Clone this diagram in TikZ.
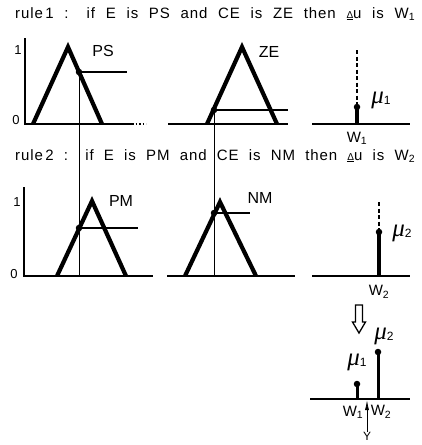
\documentclass[tikz,border=0pt]{standalone}
\usepackage{fontspec}
\setmainfont{Liberation Sans}
\newfontfamily\muserif{Liberation Serif}
\newfontfamily\titlefont[LetterSpace=6]{Liberation Sans}
\usetikzlibrary{arrows.meta}
\newcommand{\mulab}[1]{{\muserif\itshape μ}\raisebox{-1.5pt}{\fontsize{12}{12}\selectfont #1}}
\newcommand{\delu}{\underline{\fontsize{10}{10}\selectfont Δ}u}
\begin{document}
\begin{tikzpicture}[x=1pt,y=-1pt,
 tri/.style={line width=4.2pt, line join=miter},
 axis/.style={line width=1.5pt},
 memb/.style={line width=1.2pt},
 proj/.style={line width=0.9pt},
 stick/.style={line width=3.6pt},
 dashline/.style={line width=1.3pt, dash pattern=on 4pt off 2.5pt},
 dotm/.style={circle, fill=black, inner sep=0pt, minimum size=6.5pt},
 lab/.style={font=\fontsize{16}{16}\selectfont, inner sep=0pt},
 tick/.style={font=\fontsize{13}{13}\selectfont, inner sep=0pt},
 mu/.style={font=\fontsize{25}{25}\selectfont, inner sep=0pt},
 wl/.style={font=\fontsize{15}{15}\selectfont, inner sep=0pt},
 title/.style={font=\fontsize{15}{15}\selectfont\titlefont, inner sep=0pt, anchor=base west}]
\useasboundingbox (0,0) rectangle (421,445);

% ---------- rule 1 ----------
\node[title] (t1) at (15,18) {\makebox[400pt][s]{rule\,1 : if E is PS and CE is ZE then \delu{} is W\textsubscript{1}}};

% panel 1
\coordinate (a1t) at (25,38); \coordinate (a1o) at (25,124);
\coordinate (a1e) at (132,124); \coordinate (a1f) at (146,124);
\draw[axis] (a1t) -- (a1o) -- (a1e);
\draw[axis, dotted] (a1e) -- (a1f);
\node[tick] (one1) at (18,50) {1};
\node[tick] (zero1) at (16,120) {0};
\coordinate (p1l) at (33,124); \coordinate (p1a) at (68,47); \coordinate (p1r) at (102,124);
\draw[tri] (p1l) -- (p1a) -- (p1r);
\node[dotm] (d1) at (79,72) {};
\coordinate (h1e) at (127,72);
\draw[memb] (d1.center) -- (h1e);
\node[lab] (ps) at (103,51) {PS};

% panel 2
\coordinate (b2l) at (168,124); \coordinate (b2r) at (288,124);
\draw[axis] (b2l) -- (b2r);
\coordinate (p2l) at (207,124); \coordinate (p2a) at (242,47); \coordinate (p2r) at (277,124);
\draw[tri] (p2l) -- (p2a) -- (p2r);
\node[dotm] (d2) at (214,110) {};
\coordinate (h2e) at (288,110);
\draw[memb] (d2.center) -- (h2e);
\node[lab] (ze) at (269,52) {ZE};

% panel 3
\coordinate (b3l) at (312,124); \coordinate (b3r) at (410,124);
\draw[axis] (b3l) -- (b3r);
\coordinate (s3t) at (357,50); \coordinate (s3b) at (357,124);
\node[dotm] (d3) at (357,107) {};
\draw[dashline] (s3t) -- (d3.center);
\draw[stick] (d3.center) -- (s3b);
\node[mu] (mu1a) at (381,100) {\mulab{1}};
\node[wl] (w1a) at (357,138) {W\textsubscript{1}};

% ---------- rule 2 ----------
\node[title] (t2) at (15,160) {\makebox[400pt][s]{rule\,2 : if E is PM and CE is NM then \delu{} is W\textsubscript{2}}};

% panel 1
\coordinate (a4t) at (24,187); \coordinate (a4o) at (24,276); \coordinate (a4e) at (153,276);
\draw[axis] (a4t) -- (a4o) -- (a4e);
\node[tick] (one2) at (17,202) {1};
\node[tick] (zero2) at (14,274) {0};
\coordinate (p4l) at (57,276); \coordinate (p4a) at (92,201); \coordinate (p4r) at (126,276);
\draw[tri] (p4l) -- (p4a) -- (p4r);
\node[dotm] (d4) at (79,228) {};
\coordinate (h4e) at (138,228);
\draw[memb] (d4.center) -- (h4e);
\node[lab] (pm) at (121,201) {PM};
\coordinate (v1b) at (79,276);
\draw[proj] (d1.center) -- (v1b);

% panel 2
\coordinate (b5l) at (167,276); \coordinate (b5r) at (295,276);
\draw[axis] (b5l) -- (b5r);
\coordinate (p5l) at (185,276); \coordinate (p5a) at (220,202); \coordinate (p5r) at (256,276);
\draw[tri] (p5l) -- (p5a) -- (p5r);
\node[dotm] (d5) at (214,213) {};
\coordinate (h5e) at (250,213);
\draw[memb] (d5.center) -- (h5e);
\node[lab] (nm) at (260,198) {NM};
\coordinate (v2b) at (214,276);
\draw[proj] (d2.center) -- (v2b);

% panel 3
\coordinate (b6l) at (312,276); \coordinate (b6r) at (410,276);
\draw[axis] (b6l) -- (b6r);
\coordinate (s6t) at (379,202); \coordinate (s6b) at (379,276);
\node[dotm] (d6) at (379,232) {};
\draw[dashline] (s6t) -- (d6.center);
\draw[stick] (d6.center) -- (s6b);
\node[mu] (mu2a) at (402,233) {\mulab{2}};
\node[wl] (w2a) at (379,292) {W\textsubscript{2}};

% ---------- result ----------
\draw[line width=1.3pt, line join=miter] (355.5,305) -- (362.5,305) -- (362.5,322) -- (365.5,322)
  -- (359,333) -- (352.5,322) -- (355.5,322) -- cycle;
\node[mu] (mu2b) at (384,336) {\mulab{2}};
\node[mu] (mu1b) at (357,362) {\mulab{1}};
\coordinate (b7l) at (310,399); \coordinate (b7r) at (410,399);
\draw[line width=2.2pt] (b7l) -- (b7r);
\node[dotm] (d7) at (378,352) {};
\coordinate (s7b) at (378,399);
\draw[line width=3pt] (d7.center) -- (s7b);
\node[dotm] (d8) at (357,384) {};
\coordinate (s8b) at (357,399);
\draw[line width=3pt] (d8.center) -- (s8b);
\node[wl] (w1b) at (353,412) {W\textsubscript{1}};
\node[wl] (w2b) at (381,412) {W\textsubscript{2}};
\node[font=\fontsize{12}{12}\selectfont, inner sep=0pt] (yy) at (367,436) {Y};
\coordinate (ytop) at (367,400);
\draw[line width=0.8pt, -{Latex[length=10pt,width=4pt]}] (yy.north) -- (ytop);
\end{tikzpicture}
\end{document}
